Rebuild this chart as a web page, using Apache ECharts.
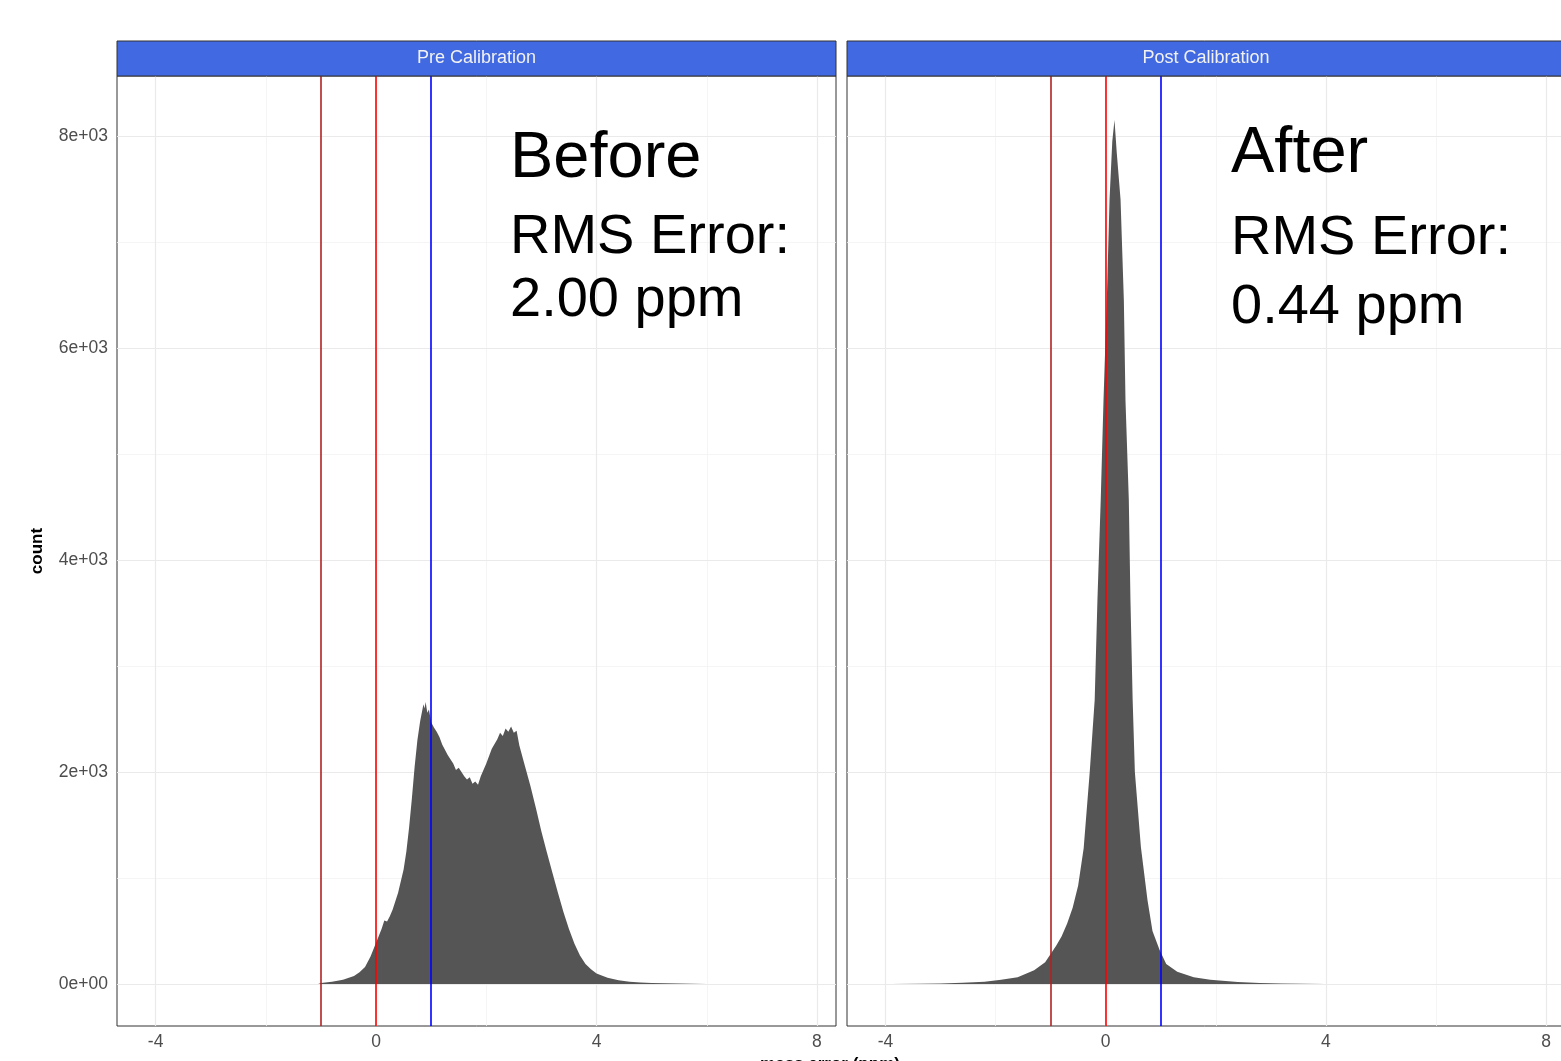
<!DOCTYPE html>
<html>
<head>
<meta charset="utf-8">
<script src="https://cdn.jsdelivr.net/npm/echarts@6/dist/echarts.min.js"></script>
<style>
html, body { margin: 0; padding: 0; background: #fff; }
#chart { width: 1561px; height: 1061px; }
</style>
</head>
<body>
<div id="chart"></div>
<script>
// panels
var panels = ['Pre Calibration', 'Post Calibration'];

// histogram before calibration (ppm, count)
var preX = [-1.05, -1.0, -0.8, -0.6, -0.4, -0.3, -0.2, -0.1, 0.0, 0.1, 0.15, 0.2, 0.25, 0.3, 0.4, 0.5, 0.55, 0.6, 0.65, 0.7,
  0.75, 0.8, 0.83, 0.86, 0.88, 0.9, 0.93, 0.96, 1.0, 1.05, 1.1, 1.15, 1.2, 1.3, 1.4, 1.45, 1.5, 1.6, 1.65, 1.7,
  1.75, 1.8, 1.85, 1.9, 2.0, 2.1, 2.2, 2.25, 2.3, 2.35, 2.4, 2.45, 2.5, 2.55, 2.6, 2.7, 2.8, 2.9, 3.0, 3.1,
  3.2, 3.3, 3.4, 3.5, 3.6, 3.7, 3.8, 3.9, 4.0, 4.2, 4.4, 4.6, 4.8, 5.0, 5.5, 6.0, 6.5];
var preCount = [0, 10, 22, 40, 75, 110, 160, 260, 390, 520, 600, 590, 640, 700, 860, 1080, 1250, 1480, 1750, 2050,
  2300, 2480, 2560, 2640, 2600, 2660, 2560, 2590, 2470, 2420, 2380, 2330, 2260, 2160, 2080, 2020, 2040, 1960, 1930, 1950,
  1890, 1910, 1880, 1960, 2080, 2220, 2310, 2370, 2340, 2410, 2380, 2430, 2370, 2390, 2250, 2060, 1870, 1660, 1440, 1240,
  1050, 860, 680, 520, 380, 270, 190, 140, 100, 60, 35, 22, 15, 10, 4, 1, 0];

// histogram after calibration (ppm, count)
var postX = [-3.9, -3.4, -3.0, -2.6, -2.2, -1.9, -1.6, -1.3, -1.1, -0.9, -0.8, -0.7, -0.6, -0.5, -0.4, -0.29, -0.2, -0.15, -0.09, -0.04,
  0.02, 0.07, 0.12, 0.16, 0.2, 0.27, 0.33, 0.36, 0.42, 0.45, 0.49, 0.53, 0.64, 0.76, 0.85, 0.98, 1.1, 1.3, 1.6, 1.9,
  2.4, 2.8, 3.2, 3.6, 4.0];
var postCount = [0, 3, 6, 12, 22, 40, 65, 130, 206, 360, 450, 570, 720, 930, 1280, 2000, 2680, 3620, 4570, 5500,
  6450, 7400, 7950, 8150, 7850, 7400, 6450, 5500, 4570, 3620, 2680, 2000, 1290, 790, 500, 320, 190, 115, 65, 40,
  18, 10, 5, 2, 0];

// ticks
var xMajor = [-4, 0, 4, 8];
var xMinor = [-2, 2, 6];
var yMajor = [0, 2000, 4000, 6000, 8000];
var yMinor = [1000, 3000, 5000, 7000];

// reference lines
var refLines = [-1, 0, 1];
var refColors = ['#B22222', '#FF0000', '#0000FF'];

// annotations
var notes = [
  ['Before', 'RMS Error:', '2.00 ppm'],
  ['After', 'RMS Error:', '0.44 ppm']
];

function sci(v) {
  if (v === 0) return '0e+00';
  var e = Math.floor(Math.log10(Math.abs(v)));
  var m = Math.round(v / Math.pow(10, e) * 100) / 100;
  return m + 'e' + (e < 0 ? '-' : '+') + (Math.abs(e) < 10 ? '0' : '') + Math.abs(e);
}

function pairs(xs, ys) {
  return xs.map(function(x, i) { return [x, ys[i]]; });
}

var chart = echarts.init(document.getElementById('chart'));

var grids = [
  { left: 117, top: 76, width: 719, height: 950 },
  { left: 847, top: 76, width: 718, height: 950 }
];

var xAxes = [];
var yAxes = [];
var series = [];
var hist = [pairs(preX, preCount), pairs(postX, postCount)];

grids.forEach(function(g, i) {
  g.show = true;
  g.borderColor = '#333';
  g.borderWidth = 1;
  g.backgroundColor = 'transparent';
  g.containLabel = false;
  g.outerBoundsMode = 'none';

  xAxes.push({
    type: 'value',
    gridIndex: i,
    min: -4.7,
    max: 8.345,
    axisLine: { show: false },
    axisTick: { show: true, customValues: xMajor, length: 5, lineStyle: { color: '#333' } },
    axisLabel: { customValues: xMajor, color: '#4d4d4d', fontSize: 17.5, margin: 7, fontFamily: 'Liberation Sans' },
    splitLine: { show: false }
  });
  yAxes.push({
    type: 'value',
    gridIndex: i,
    min: -396,
    max: 8566,
    axisLine: { show: false },
    axisTick: { show: i === 0, customValues: yMajor, length: 5, lineStyle: { color: '#333' } },
    axisLabel: {
      show: i === 0,
      customValues: yMajor,
      color: '#4d4d4d',
      fontSize: 17.5,
      margin: 9,
      fontFamily: 'Liberation Sans',
      formatter: sci
    },
    splitLine: { show: false }
  });

  // grid lines (below the histogram)
  var gridData = [];
  xMinor.forEach(function(v) { gridData.push({ xAxis: v, lineStyle: { color: '#F3F3F3', width: 0.8 } }); });
  yMinor.forEach(function(v) { gridData.push({ yAxis: v, lineStyle: { color: '#F3F3F3', width: 0.8 } }); });
  xMajor.forEach(function(v) { gridData.push({ xAxis: v, lineStyle: { color: '#EAEAEA', width: 1.2 } }); });
  yMajor.forEach(function(v) { gridData.push({ yAxis: v, lineStyle: { color: '#EAEAEA', width: 1.2 } }); });
  series.push({
    type: 'line',
    xAxisIndex: i,
    yAxisIndex: i,
    data: [],
    z: 1,
    silent: true,
    markLine: {
      z: 1,
      silent: true,
      symbol: ['none', 'none'],
      label: { show: false },
      animation: false,
      lineStyle: { type: 'solid' },
      data: gridData
    }
  });

  // histogram
  series.push({
    type: 'line',
    xAxisIndex: i,
    yAxisIndex: i,
    data: hist[i],
    symbol: 'none',
    z: 3,
    silent: true,
    animation: false,
    lineStyle: { width: 0, color: '#555' },
    itemStyle: { color: '#555' },
    areaStyle: { color: '#555', opacity: 1 }
  });

  // reference lines
  series.push({
    type: 'line',
    xAxisIndex: i,
    yAxisIndex: i,
    data: [],
    z: 6,
    silent: true,
    markLine: {
      z: 6,
      silent: true,
      symbol: ['none', 'none'],
      label: { show: false },
      animation: false,
      data: refLines.map(function(v, k) {
        return { xAxis: v, lineStyle: { color: refColors[k], width: 1.6, type: 'solid' } };
      })
    }
  });
});

// strips, annotations, axis titles
var graphics = [];
grids.forEach(function(g, i) {
  graphics.push({
    type: 'rect',
    shape: { x: g.left, y: 41, width: g.width, height: 35 },
    style: { fill: '#4169E1', stroke: '#333', lineWidth: 1 },
    z: 10
  });
  graphics.push({
    type: 'text',
    x: g.left + g.width / 2,
    y: 58.5,
    style: {
      text: panels[i],
      fill: '#F2F2F2',
      font: '18px "Liberation Sans"',
      align: 'center',
      verticalAlign: 'middle'
    },
    z: 11
  });
});

var noteX = [510, 1231];
var noteBase = [[182, 257, 320], [177, 258, 327]];
var noteSize = [65, 56, 56];
notes.forEach(function(lines, i) {
  lines.forEach(function(t, k) {
    graphics.push({
      type: 'text',
      x: noteX[i],
      y: noteBase[i][k] - 0.3465 * noteSize[k],
      style: {
        text: t,
        fill: '#000',
        font: noteSize[k] + 'px "Liberation Sans"',
        align: 'left',
        verticalAlign: 'middle'
      },
      z: 12
    });
  });
});

graphics.push({
  type: 'text',
  x: 37,
  y: 551,
  rotation: Math.PI / 2,
  style: {
    text: 'count',
    fill: '#000',
    font: 'bold 17px "Liberation Sans"',
    align: 'center',
    verticalAlign: 'middle'
  },
  z: 12
});
graphics.push({
  type: 'text',
  x: 830,
  y: 1056,
  style: {
    text: 'mass error (ppm)',
    fill: '#000',
    font: 'bold 17px "Liberation Sans"',
    align: 'center',
    verticalAlign: 'top'
  },
  z: 12
});

chart.setOption({
  animation: false,
  backgroundColor: '#fff',
  grid: grids,
  xAxis: xAxes,
  yAxis: yAxes,
  series: series,
  graphic: graphics
});
</script>
</body>
</html>
